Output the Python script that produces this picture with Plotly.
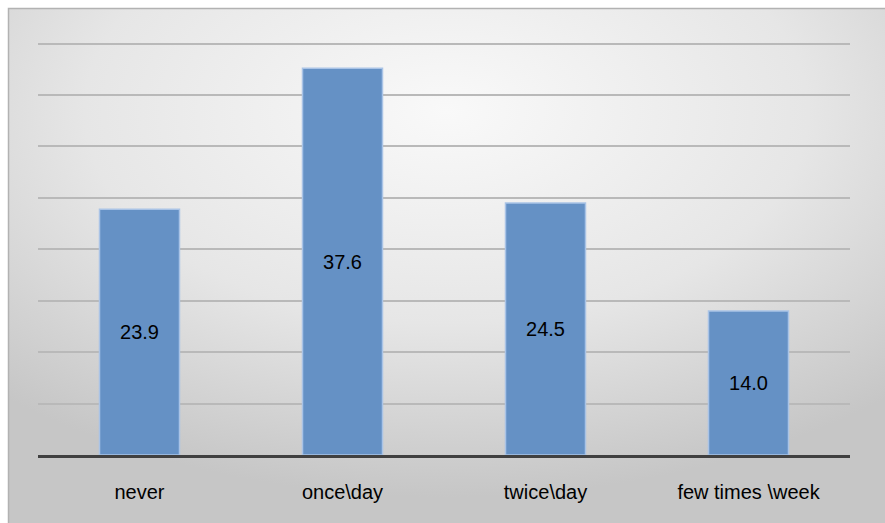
import urllib.parse
import plotly.graph_objects as go

# Frequency categories and their shares
categories = ["never", "once\\day", "twice\\day", "few times \\week"]
values = [23.9, 37.6, 24.5, 14.0]
grid_ticks = [5, 10, 15, 20, 25, 30, 35, 40]

W, H = 885, 523
# plot area in pixels
L, R, T, B = 38, 35, 23, 68
pw, ph = W - L - R, H - T - B

def px_to_paper_x(px):
    return (px - L) / pw

def px_to_paper_y(py):
    return (H - B - py) / ph

# soft radial grey backdrop for the chart panel
fx0, fy0 = 8, 8
fw, fh = W - fx0, H - fy0
svg = (
    f'<svg xmlns="http://www.w3.org/2000/svg" width="{fw}" height="{fh}" '
    f'viewBox="0 0 {fw} {fh}" preserveAspectRatio="none">'
    '<defs><radialGradient id="g" cx="0.5" cy="0.2" r="0.75" fx="0.5" fy="0.2">'
    '<stop offset="0" stop-color="#f9f9f9"/>'
    '<stop offset="0.55" stop-color="#e6e6e6"/>'
    '<stop offset="1" stop-color="#c6c6c6"/>'
    '</radialGradient></defs>'
    f'<rect x="0" y="0" width="{fw}" height="{fh}" fill="url(#g)"/></svg>'
)
svg_uri = "data:image/svg+xml;charset=utf-8," + urllib.parse.quote(svg)

fig = go.Figure()
fig.add_trace(go.Bar(
    x=categories,
    y=values,
    marker=dict(color="#6591c5", line=dict(color="#a9c3e6", width=1.5)),
    text=values,
    texttemplate="%{y:.1f}",
    textposition="inside",
    insidetextanchor="middle",
    textangle=0,
    constraintext="none",
    textfont=dict(family="Liberation Sans, Arial, sans-serif", size=20, color="#000000"),
    hoverinfo="skip",
))

fig.add_layout_image(dict(
    source=svg_uri,
    xref="paper", yref="paper",
    x=px_to_paper_x(fx0), y=px_to_paper_y(fy0),
    sizex=fw / pw, sizey=fh / ph,
    xanchor="left", yanchor="top",
    sizing="stretch",
    layer="below",
))

fig.add_shape(
    type="rect", xref="paper", yref="paper",
    x0=px_to_paper_x(fx0 + 0.5), y0=px_to_paper_y(H + 2),
    x1=px_to_paper_x(W + 2), y1=px_to_paper_y(fy0 + 0.5),
    line=dict(color="#b2b2b2", width=1.5),
    fillcolor="rgba(0,0,0,0)",
    layer="below",
)

fig.update_layout(
    width=W, height=H,
    margin=dict(l=L, r=R, t=T, b=B),
    paper_bgcolor="#ffffff",
    plot_bgcolor="rgba(0,0,0,0)",
    bargap=0.606,
    showlegend=False,
    font=dict(family="Liberation Sans, Arial, sans-serif", size=20, color="#000000"),
    xaxis=dict(
        showline=True, linecolor="#404040", linewidth=3,
        showgrid=False, zeroline=False,
        ticks="", ticklabelstandoff=17,
        tickfont=dict(size=20, color="#000000"),
    ),
    yaxis=dict(
        range=[0, 42],
        tickvals=grid_ticks,
        showticklabels=False,
        showgrid=True, gridcolor="#b9b9b9", gridwidth=2,
        zeroline=False, showline=False, ticks="",
    ),
)

fig.write_html("out.html")
